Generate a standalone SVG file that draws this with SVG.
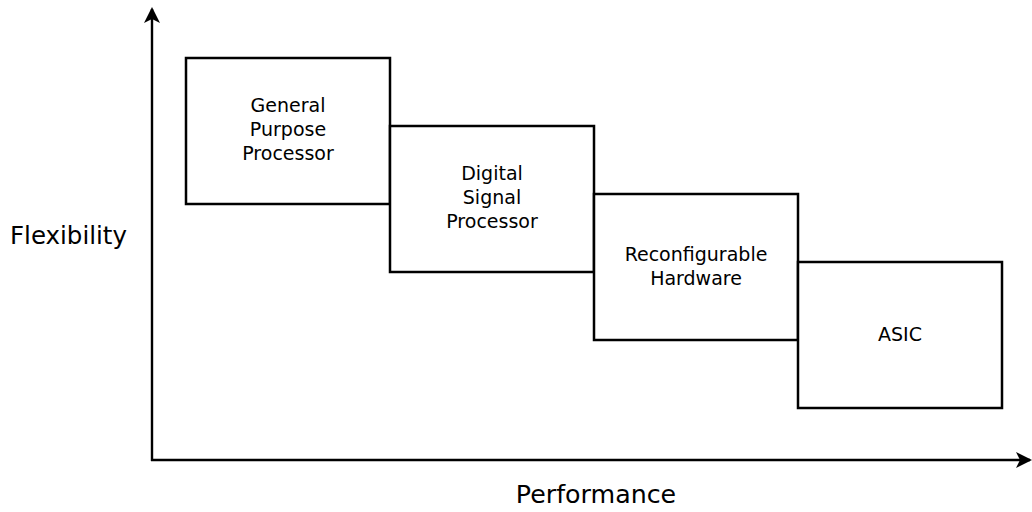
<svg xmlns="http://www.w3.org/2000/svg" width="1032" height="512" viewBox="0 0 1032 512">
  <style>
    .box { fill: #ffffff; stroke: #000000; stroke-width: 2.5; }
    .axis { stroke: #000000; stroke-width: 2.4; fill: none; }
    .label { font-family: "DejaVu Sans", "Liberation Sans", sans-serif; font-size: 19px; fill: #000000; text-anchor: middle; }
    .axis-label { font-family: "DejaVu Sans", "Liberation Sans", sans-serif; font-size: 24.5px; fill: #000000; }
    #perf-label { font-size: 25.3px; text-anchor: middle; }
  </style>
  <defs>
    <marker id="arrow" viewBox="0 0 16 16" refX="14" refY="8" markerWidth="16" markerHeight="16" markerUnits="userSpaceOnUse" orient="auto">
      <path d="M0,0 L16,8 L0,16 L4,8 Z" fill="#000000"/>
    </marker>
  </defs>
  <rect width="1032" height="512" fill="#ffffff"/>

  <g id="connectors">
    <line class="axis" x1="152" y1="461" x2="152" y2="9" marker-end="url(#arrow)"/>
    <line class="axis" x1="151" y1="460" x2="1030" y2="460" marker-end="url(#arrow)"/>
  </g>

  <g id="gpp">
    <rect class="box" x="186" y="58" width="204" height="146"/>
    <text class="label" x="288" y="112">General</text>
    <text class="label" x="288" y="136">Purpose</text>
    <text class="label" x="288" y="160">Processor</text>
  </g>

  <g id="dsp">
    <rect class="box" x="390" y="126" width="204" height="146"/>
    <text class="label" x="492" y="180">Digital</text>
    <text class="label" x="492" y="204">Signal</text>
    <text class="label" x="492" y="228">Processor</text>
  </g>

  <g id="reconfigurable">
    <rect class="box" x="594" y="194" width="204" height="146"/>
    <text class="label" x="696" y="261">Reconfigurable</text>
    <text class="label" x="696" y="285">Hardware</text>
  </g>

  <g id="asic">
    <rect class="box" x="798" y="262" width="204" height="146"/>
    <text class="label" x="900" y="341">ASIC</text>
  </g>

  <g id="axis-labels">
    <text class="axis-label" x="10" y="244">Flexibility</text>
    <text class="axis-label" id="perf-label" x="596" y="503">Performance</text>
  </g>
</svg>
